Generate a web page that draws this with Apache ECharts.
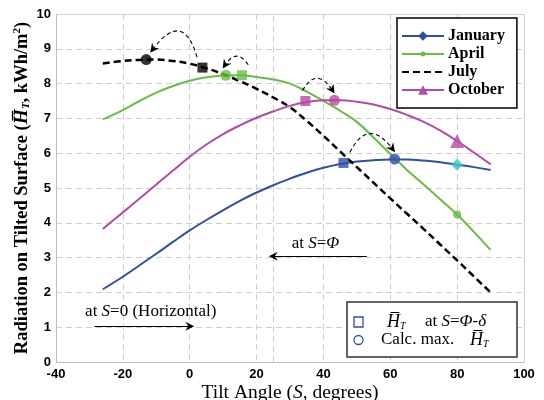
<!DOCTYPE html>
<html><head><meta charset="utf-8">
<script src="https://cdn.jsdelivr.net/npm/echarts@6/dist/echarts.min.js"></script>
<style>html,body{margin:0;padding:0;background:#fff}#c{width:544px;height:400px}</style>
</head><body><div id="c"></div>
<script>
// ---- data ----
const tilt     = [-26,-20,-15,-10,-5,0,5,10,15,20,25,30,35,40,45,50,55,60,65,70,75,80,85,90];
const january  = [2.09,2.45,2.78,3.11,3.45,3.78,4.08,4.36,4.63,4.87,5.08,5.27,5.44,5.58,5.69,5.76,5.80,5.82,5.82,5.79,5.74,5.67,5.60,5.52];
const april    = [6.97,7.24,7.50,7.74,7.93,8.08,8.18,8.23,8.24,8.19,8.12,8.00,7.77,7.50,7.22,6.90,6.45,5.98,5.52,5.10,4.67,4.24,3.74,3.22];
const july     = [8.58,8.65,8.68,8.69,8.65,8.57,8.44,8.27,8.07,7.85,7.60,7.32,6.93,6.50,6.05,5.60,5.15,4.70,4.26,3.82,3.37,2.92,2.46,2.00];
const october  = [3.82,4.30,4.70,5.10,5.50,5.90,6.25,6.55,6.80,7.02,7.20,7.36,7.47,7.52,7.52,7.48,7.40,7.27,7.10,6.90,6.65,6.35,6.02,5.68];
const months   = ['January','April','July','October'];
const markerTilt = 80;                        // tilt where month markers are drawn
const phiDeltaTilt = [46.0, 15.6, 3.8, 34.6]; // S = Phi - delta (per month)
const phiDeltaH    = [5.72, 8.24, 8.46, 7.50];
const calcMaxTilt  = [61.3, 10.8, -13.0, 43.3];
const calcMaxH     = [5.83, 8.24, 8.69, 7.52];
const arrowStartTilt = [47.9, 17.5, 2.2, 33.7];
const arrowEndTilt   = [60.6, 10.6, -11.0, 42.6];
const phi = 25;
const xTicks = [-40,-20,0,20,40,60,80,100];
const yTicks = [0,1,2,3,4,5,6,7,8,9,10];

// ---- styles ----
const colors = {January:'#2f4fa3', April:'#68bd45', July:'#000000', October:'#b54aa6'};
const janMarkerColor = '#3cc3c6';
const SERIF = "'Times New Roman','Liberation Serif',serif";
const SANS = "Arial,'Liberation Sans',sans-serif";
const seriesVals = {January:january, April:april, July:july, October:october};
const symbols = {January:'diamond', April:'circle', July:'none', October:'triangle'};
const gridLine = {color:'#cfcfcf', type:[6,4], width:1};
const frameLine = {color:'#cfcfcf', type:'solid', width:1};
// legend icon for April: line with a small dot (corner specks keep the 42x12 box)
const aprilIcon = 'path://M0,0L0.01,0L0,0.01Z M42,12L41.99,12L42,11.99Z M0,5H42V7H0Z M18.6,6A2.4,2.4 0 1,1 23.4,6A2.4,2.4 0 1,1 18.6,6Z';

const pair = (xs, ys) => xs.map((x,i)=>[x, ys[i]]);
const mi = tilt.indexOf(markerTilt);
const xMax = xTicks[xTicks.length-1], yMax = yTicks[yTicks.length-1];

const chart = echarts.init(document.getElementById('c'), null, {renderer:'canvas'});

const lineSeries = months.map((m,k) => ({
  name: m, type:'line', data: pair(tilt, seriesVals[m]),
  smooth: 0.4, showSymbol:false, symbol: symbols[m], symbolSize: 9,
  lineStyle:{color:colors[m], width: m==='July'?2.5:2, type: m==='July'?[7,4]:'solid'},
  itemStyle:{color:colors[m]}, z: 2, silent:true,
  markLine: k===0 ? {silent:true, symbol:'none', label:{show:false}, z:1,
                     data:[{xAxis:phi, lineStyle:gridLine},
                           {xAxis:xMax, lineStyle:frameLine},
                           {yAxis:yMax, lineStyle:frameLine}]} : undefined
}));

const markerSeries = {
  type:'scatter', z:4, silent:true,
  data: months.filter(m=>m!=='July').map(m => ({
    value:[markerTilt, seriesVals[m][mi]],
    symbol: symbols[m],
    symbolSize: m==='April'?8:(m==='October'?14:12),
    itemStyle:{color: m==='January'?janMarkerColor:colors[m]}
  }))
};
const sqSeries = {
  type:'scatter', z:5, silent:true, symbol:'rect', symbolSize:10,
  data: months.map((m,i)=>({value:[phiDeltaTilt[i], phiDeltaH[i]], itemStyle:{color:colors[m]}}))
};
const ciSeries = {
  type:'scatter', z:5, silent:true, symbol:'circle', symbolSize:11,
  data: months.map((m,i)=>({value:[calcMaxTilt[i], calcMaxH[i]], itemStyle:{color:colors[m]}}))
};
// dashed curved arrows: from (Phi-delta) square towards calculated max circle
const arrowHead = 'path://M5,0 L10,11 L5,7.5 L0,11 Z';
const bendArrows = {
  type:'lines', coordinateSystem:'cartesian2d', z:6, silent:true,
  symbol:['none', arrowHead], symbolSize:[7,9],
  lineStyle:{color:'#000', width:1.1, type:[4,3], opacity:1},
  data: months.map((m,i)=>{
    const from = [arrowStartTilt[i], phiDeltaH[i]+0.3];
    const to   = [arrowEndTilt[i], calcMaxH[i]+0.3];
    const dir = to[0] > from[0] ? 1 : -1;
    const k = m==='July' ? 1.0 : (m==='April' ? 0.75 : 0.8);
    return {coords:[from,to], lineStyle:{curveness: dir*k}};
  })
};
const straightArrows = {
  type:'lines', coordinateSystem:'cartesian2d', z:6, silent:true,
  symbol:['none','path://M5,0 L10,10 L5,6.5 L0,10 Z'], symbolSize:[7,9],
  lineStyle:{color:'#000', width:1, type:'solid', opacity:1},
  data:[ {coords:[[-28.5,1.03],[0,1.03]]}, {coords:[[53,3.04],[phi,3.04]]} ]
};

const option = {
  animation:false,
  backgroundColor:'#fff',
  grid:{left:56, right:20, top:14, bottom:38, outerBoundsMode:'none', containLabel:false},
  xAxis:{
    type:'value', min:xTicks[0], max:xMax, interval:20,
    axisLine:{show:true, onZero:false, lineStyle:{color:'#bdbdbd', width:1}},
    axisTick:{show:false},
    splitLine:{show:true, lineStyle:gridLine},
    axisLabel:{color:'#000', fontFamily:SANS, fontWeight:'bold', fontSize:13, margin:6},
    name:'{n|Tilt Angle (}{i|S}{n|, degrees)}', nameLocation:'middle', nameGap:21, nameMoveOverlap:false,
    nameTextStyle:{rich:{
      n:{fontFamily:SERIF, fontSize:19.5, color:'#000'},
      i:{fontFamily:SERIF, fontSize:19.5, fontStyle:'italic', color:'#000'}
    }}
  },
  yAxis:{
    type:'value', min:yTicks[0], max:yMax, interval:1,
    axisLine:{show:true, onZero:false, lineStyle:{color:'#bdbdbd', width:1}},
    axisTick:{show:false},
    splitLine:{show:true, lineStyle:gridLine},
    axisLabel:{color:'#000', fontFamily:SANS, fontWeight:'bold', fontSize:13, margin:5},
    name:'{b|Radiation on Tilted Surface (}{h|H\u0305}{s|T}{b|, kWh/m}{p|2}{b|)}',
    nameLocation:'middle', nameGap:24, nameRotate:90, nameMoveOverlap:false,
    nameTextStyle:{rich:{
      b:{fontFamily:SERIF, fontSize:18.5, fontWeight:'bold', color:'#000'},
      h:{fontFamily:SERIF, fontSize:19.5, fontWeight:'bold', fontStyle:'italic', color:'#000'},
      s:{fontFamily:SERIF, fontSize:11, fontWeight:'bold', fontStyle:'italic', color:'#000', verticalAlign:'bottom', padding:[7,0,0,0]},
      p:{fontFamily:SERIF, fontSize:11, fontWeight:'bold', color:'#000', verticalAlign:'top', padding:[0,0,7,0]}
    }}
  },
  legend:{
    left:397, top:18, orient:'vertical',
    backgroundColor:'#fff', borderColor:'#000', borderWidth:1.5,
    padding:[10,12,10,4], itemWidth:42, itemHeight:12, itemGap:2,
    textStyle:{fontFamily:SERIF, fontWeight:'bold', fontSize:16, lineHeight:16, color:'#000', padding:[0,0,0,-1]},
    data: months.map(m => m==='July'
      ? {name:m, itemStyle:{opacity:0}}
      : (m==='April' ? {name:m, icon:aprilIcon} : {name:m}))
  },
  series:[...lineSeries, markerSeries, sqSeries, ciSeries, bendArrows, straightArrows]
};
chart.setOption(option);

// annotation texts and key box
const px = (x,y) => chart.convertToPixel({gridIndex:0},[x,y]);
const p0 = px(-31.3, 1.44);
const p1 = px(30.5, 3.40);
const txt = {
  n:{fontFamily:SERIF, fontSize:17, color:'#000'},
  i:{fontFamily:SERIF, fontSize:17, fontStyle:'italic', color:'#000'},
  h:{fontFamily:SERIF, fontSize:18, fontStyle:'italic', color:'#000'},
  s:{fontFamily:SERIF, fontSize:10, fontStyle:'italic', color:'#000', verticalAlign:'bottom', padding:[9,0,0,0]}
};
const mid = {verticalAlign:'middle', rich:txt};
chart.setOption({graphic:[
  {type:'text', x:p0[0], y:p0[1], z:10, style:Object.assign({text:'{n|at }{i|S}{n|=0 (Horizontal)}'}, mid)},
  {type:'text', x:p1[0], y:p1[1], z:10, style:Object.assign({text:'{n|at }{i|S}{n|=}{i|\u03A6}'}, mid)},
  {type:'group', x:347, y:302, z:10, children:[
    {type:'rect', shape:{x:0,y:0,width:170,height:55}, style:{fill:'#fff', stroke:'#333', lineWidth:1.5}},
    {type:'rect', shape:{x:7,y:15,width:9,height:10}, style:{fill:'none', stroke:'#2f4fa3', lineWidth:1.3}},
    {type:'circle', shape:{cx:11.5,cy:38,r:4.5}, style:{fill:'none', stroke:'#2f4fa3', lineWidth:1.3}},
    {type:'text', x:40, y:20, style:Object.assign({text:'{h|H\u0305}{s|T}'}, mid)},
    {type:'text', x:78, y:20, style:Object.assign({text:'{n|at }{i|S}{n|=}{i|\u03A6}{n|-}{i|\u03B4}'}, mid)},
    {type:'text', x:34, y:38, style:Object.assign({text:'{n|Calc. max.}'}, mid)},
    {type:'text', x:123, y:38, style:Object.assign({text:'{h|H\u0305}{s|T}'}, mid)}
  ]}
]});
</script></body></html>
